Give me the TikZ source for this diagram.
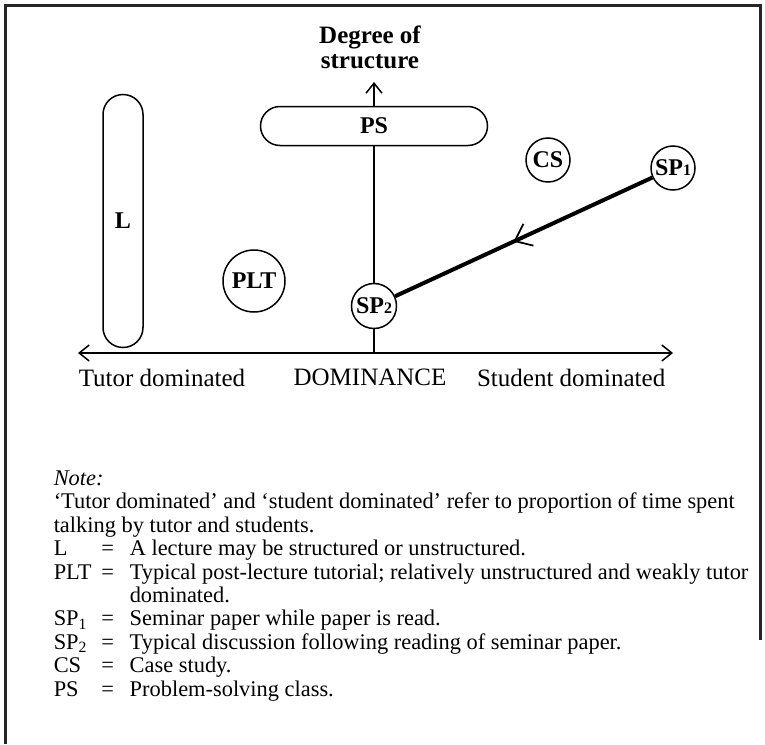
\documentclass[tikz,border=0pt]{standalone}
\usepackage{fontspec}
\setmainfont{Liberation Serif}
\usetikzlibrary{positioning,arrows.meta,decorations.markings}

\newcommand{\defrow}[2]{\makebox[23pt][l]{#1}\makebox[8pt]{=}\hspace{7pt}#2}

\begin{document}
\begin{tikzpicture}[x=0.5pt,y=-0.5pt,line width=0.75pt,
	>={Straight Barb[length=5pt,width=8pt]},
	blob/.style={draw,circle,inner sep=0pt,font=\fontsize{12}{12}\selectfont\bfseries},
	pill/.style={draw,rectangle,rounded corners=#1,inner sep=0pt,font=\fontsize{12}{12}\selectfont\bfseries},
	lbl/.style={inner sep=0pt,font=\fontsize{12.5}{12.5}\selectfont},
	midarrow/.style={postaction={decorate},decoration={markings,
		mark=at position 0.54 with {\arrow{Straight Barb[length=7.5pt,width=12pt,line width=0.9pt]}}}}]
	\useasboundingbox (0,0) rectangle (765,744);
	% frame
	\draw[line width=1.5pt,black!85] (5,744) -- (5,5) -- (760,5) -- (760,640);

	% the shapes
	\node[pill=10pt,minimum width=20pt,minimum height=126.5pt] (L) at (123,221) {L};
	\node[pill=9.75pt,minimum width=113.5pt,minimum height=19.5pt] (PS) at (374,126) {PS};
	\node[blob,minimum size=22pt] (CS) at (548,160) {CS};
	\node[blob,minimum size=22pt] (SP1) at (673,168) {SP{\footnotesize 1}};
	\node[blob,minimum size=31pt] (PLT) at (254,281) {PLT};
	\node[blob,minimum size=22.5pt] (SP2) at (374,306) {SP{\footnotesize 2}};

	% axes
	\coordinate (tl) at (78,353);
	\coordinate (tr) at (673,353);
	\coordinate (o) at (374,353);
	\coordinate (up) at (374,82);
	\draw[<->] (tl) -- (tr);
	\path (o) edge (SP2)
		 (SP2) edge (PS)
		 (PS) edge[->] (up);
	\draw[line width=2pt,midarrow] (SP1) -- (SP2);

	\node[lbl,font=\fontsize{12.5}{12.5}\selectfont\bfseries,align=center,above=6pt of up,xshift=-2pt] (deg) {Degree of\\structure};
	\node[lbl,below right=7.5pt and 0pt of tl] (tutor) {Tutor dominated};
	\node[lbl,below=7.5pt of o,xshift=-2pt] (dom) {DOMINANCE};
	\node[lbl,below left=7.5pt and 3.5pt of tr] (student) {Student dominated};

	% note
	\node[anchor=north west,inner sep=0pt,align=left,font=\fontsize{11.2}{11.7}\selectfont] (note) at (53,470) {%
		\textit{Note:}\\
		`Tutor dominated' and `student dominated' refer to proportion of time spent\\
		talking by tutor and students.\\
		\defrow{L}{A lecture may be structured or unstructured.}\\
		\defrow{PLT}{Typical post-lecture tutorial; relatively unstructured and weakly tutor}\\
		\hspace*{38pt}dominated.\\
		\defrow{SP\textsubscript{1}}{Seminar paper while paper is read.}\\
		\defrow{SP\textsubscript{2}}{Typical discussion following reading of seminar paper.}\\
		\defrow{CS}{Case study.}\\
		\defrow{PS}{Problem-solving class.}};
\end{tikzpicture}
\end{document}
